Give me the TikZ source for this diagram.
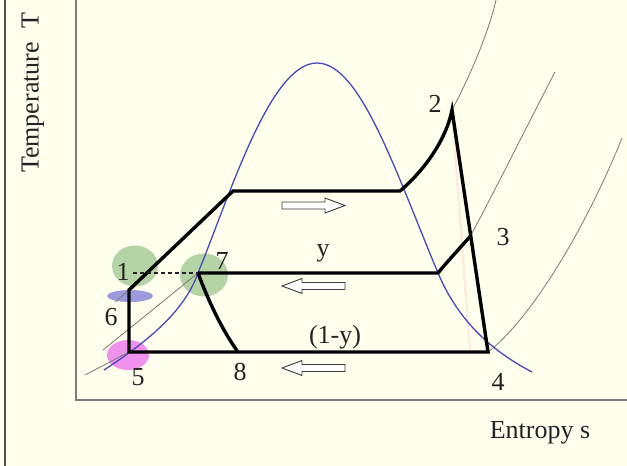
\documentclass[tikz,border=0pt]{standalone}
\usepackage{fontspec}
\setmainfont{Liberation Serif}
\definecolor{bg}{RGB}{255,255,238}
\definecolor{domec}{RGB}{72,72,190}
\definecolor{isoc}{RGB}{120,120,120}
\definecolor{axisc}{RGB}{125,125,125}
\definecolor{framec}{RGB}{80,80,80}
\definecolor{blobgreen}{RGB}{180,212,165}
\definecolor{blobblue}{RGB}{155,155,222}
\definecolor{blobpink}{RGB}{240,145,235}
\definecolor{peach}{RGB}{252,236,222}
\definecolor{labelc}{RGB}{35,35,35}
\definecolor{arrowc}{RGB}{60,60,60}
\tikzset{
  lbl/.style={font=\fontsize{26}{30}\selectfont, text=labelc, inner sep=0pt},
  cyc/.style={line width=3.4pt, black},
  iso/.style={line width=0.8pt, isoc},
  dome/.style={line width=1.3pt, domec},
  hollow/.style={draw=arrowc, line width=0.9pt, fill=white, line join=miter},
  rarrow/.pic={\draw[hollow] (-31.5,-3.5) -- (11.5,-3.5) -- (11.5,-7.5) -- (31.5,0) -- (11.5,7.5) -- (11.5,3.5) -- (-31.5,3.5) -- cycle;},
  larrow/.pic={\draw[hollow] (31.5,-3.5) -- (-11.5,-3.5) -- (-11.5,-7.5) -- (-31.5,0) -- (-11.5,7.5) -- (-11.5,3.5) -- (31.5,3.5) -- cycle;}
}
\begin{document}
\begin{tikzpicture}[x=1pt,y=-1pt]
\fill[bg] (0,0) rectangle (627,466);
\useasboundingbox (0,0) rectangle (627,466);
% frame and axes
\draw[framec, line width=2pt] (4.5,0) -- (4.5,466);
\draw[axisc, line width=1.5pt] (76,0) -- (76,400) -- (627,400);
\node[lbl, rotate=90] (ylab) at (33,93) {Temperature~~T};
\node[lbl] (xlab) at (540,433) {Entropy s};
% state points
\coordinate (p5) at (129,352);
\coordinate (p6) at (129,290);
\coordinate (pa) at (233,191);
\coordinate (pb) at (400,191);
\coordinate (p2) at (452,110);
\coordinate (p4) at (488,352);
\coordinate (p7) at (198,273);
\coordinate (pc) at (438,273);
\coordinate (p3) at (470.5,236);
\coordinate (p8) at (238,352);
\coordinate (p1) at (133,273);
\coordinate (dl) at (104,370);
\coordinate (dt) at (317,63);
\coordinate (dr) at (532,372);
% highlight blobs
\fill[blobgreen] (135,266) ellipse [x radius=23pt, y radius=20.5pt];
\fill[blobgreen] (204,275) ellipse [x radius=24pt, y radius=21.5pt];
\fill[blobblue] (130,296) ellipse [x radius=23pt, y radius=6pt];
\fill[blobpink] (128,355) ellipse [x radius=21pt, y radius=15pt];
% faint line
\draw[peach, line width=2.5pt] (452,112) -- (470,350);
% isobars
\draw[iso] (85,375) -- (p5);
\draw[iso] (103,350) -- (p7);
\draw[iso] (115,302) -- (p6);
\draw[iso] (p4) .. controls (530,320) and (585,230) .. (622,138);
\draw[iso] (p3) .. controls (490,200) and (525,130) .. (555,72);
\draw[iso] (p2) .. controls (468,80) and (488,35) .. (496,0);
% dome
\draw[dome] (dl) .. controls (150,340) and (185,310) .. (p7)
  .. controls (230,195) and (270,63) .. (dt)
  .. controls (360,63) and (395,170) .. (pc)
  .. controls (458,320) and (490,350) .. (dr);
% cycle
\draw[cyc] (p5) -- (p6) -- (pa) -- (pb) .. controls (418,176) and (445,145) .. (p2) -- (p4) -- cycle;
\draw[cyc] (p7) -- (pc) .. controls (447,262) and (459,249) .. (p3);
\draw[cyc] (p7) .. controls (208,300) and (222,330) .. (p8);
\draw[labelc, line width=1.6pt, dash pattern=on 4pt off 3pt] (p1) -- (p7);
% flow arrows
\pic at (313.5,205.5) {rarrow};
\pic at (313.5,286) {larrow};
\pic at (313.5,368) {larrow};
% labels
\node[lbl] (l1) at (123,272) {1};
\node[lbl] (l2) at (435,104) {2};
\node[lbl] (l3) at (503,237) {3};
\node[lbl] (l4) at (498,382) {4};
\node[lbl] (l5) at (138,377) {5};
\node[lbl] (l6) at (111,317) {6};
\node[lbl] (l7) at (222,261) {7};
\node[lbl] (l8) at (240,372) {8};
\node[lbl] (ly) at (323,253) {y};
\node[lbl] (l1y) at (335,337) {(1-y)};
\end{tikzpicture}
\end{document}
